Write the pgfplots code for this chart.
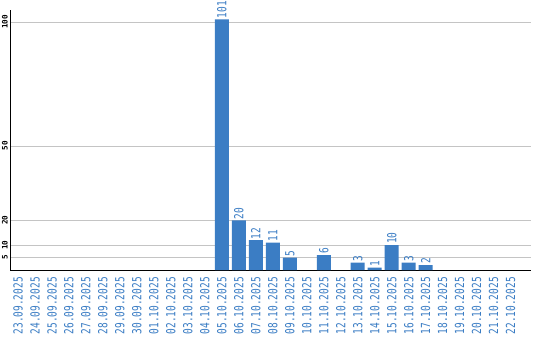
\documentclass[border=0pt]{standalone}
\usepackage{pgfplots}
\pgfplotsset{compat=1.18}
\usepackage{fontspec}
\setmainfont{DejaVu Sans}
\newfontfamily\tickfont[FakeStretch=0.76]{DejaVu Sans Mono}
\newfontfamily\yfont{DejaVu Sans Mono Bold}
\definecolor{barblue}{HTML}{3B7DC4}
\definecolor{gridgray}{HTML}{C4C4C4}
\begin{document}
\begin{tikzpicture}[x=1bp,y=1bp]
\begin{axis}[
  at={(0bp,0bp)}, anchor=south west,
  scale only axis, width=520bp, height=260bp,
  xmin=-0.44, xmax=30.17, ymin=0, ymax=104.8,
  axis lines*=left,
  axis line style={black, line width=1bp},
  ymajorgrids, grid style={gridgray, line width=0.8bp},
  ytick={5,10,20,50,100},
  xtick={0,...,29},
  xticklabels={23.09.2025,24.09.2025,25.09.2025,26.09.2025,27.09.2025,28.09.2025,29.09.2025,30.09.2025,01.10.2025,02.10.2025,03.10.2025,04.10.2025,05.10.2025,06.10.2025,07.10.2025,08.10.2025,09.10.2025,10.10.2025,11.10.2025,12.10.2025,13.10.2025,14.10.2025,15.10.2025,16.10.2025,17.10.2025,18.10.2025,19.10.2025,20.10.2025,21.10.2025,22.10.2025},
  major tick length=0pt,
  xticklabel style={yshift=-7bp, rotate=90, anchor=east, inner sep=0pt, text=barblue, font=\tickfont\fontsize{12.5bp}{12.5bp}\selectfont},
  yticklabel style={xshift=-2.5bp, rotate=90, anchor=south, inner sep=0pt, text=black, font=\yfont\fontsize{7.6bp}{7.6bp}\selectfont},
  /pgf/number format/assume math mode=true,
  bar width=14bp,
  ybar,
  nodes near coords,
  every node near coord/.append style={rotate=90, anchor=west, inner sep=1bp, text=barblue, font=\tickfont\fontsize{12.5bp}{12.5bp}\selectfont},
  clip=false,
]
\addplot[fill=barblue, draw=none] coordinates {
(12,101) (13,20) (14,12) (15,11) (16,5) (18,6) (20,3) (21,1) (22,10) (23,3) (24,2)
};
\end{axis}
\pgfresetboundingbox
\useasboundingbox (-10.5bp,-70bp) rectangle (529.5bp,270bp);
\end{tikzpicture}
\end{document}
